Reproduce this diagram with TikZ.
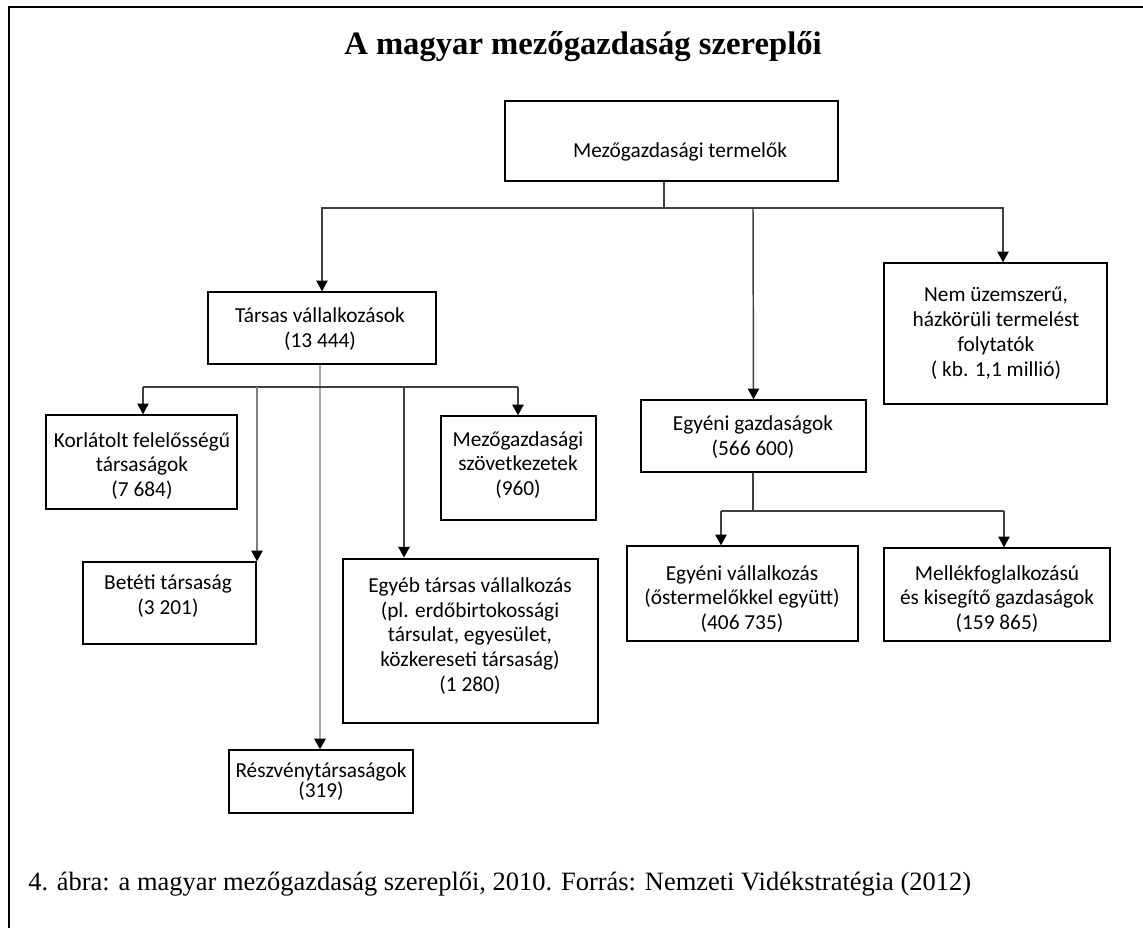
\documentclass[tikz,border=0pt]{standalone}
\usepackage{fontspec}
\setmainfont{Liberation Serif}
\newfontfamily\boxfont{Carlito}
\usetikzlibrary{arrows.meta,fit}
\definecolor{linegray}{HTML}{404040}
\definecolor{lightgray}{HTML}{A8A8A8}
\begin{document}
\begin{tikzpicture}[x=0.75pt,y=-0.75pt,
  box/.style={draw=black,line width=1.1pt,inner sep=0pt,fill=none},
  thickbox/.style={draw=black,line width=2.2pt,inner sep=0pt},
  txt/.style={align=center,inner sep=0pt,font=\boxfont\fontsize{16pt}{18.6pt}\selectfont},
  conn/.style={draw=linegray,line width=1.1pt},
  arr/.style={conn,-{Triangle[width=8.5pt,length=8pt,color=black]}},
  garr/.style={draw=lightgray,line width=1.5pt,-{Triangle[width=8.5pt,length=8pt,color=black]}}
]
\useasboundingbox (0,0) rectangle (1143,928);
\fill[white] (0,0) rectangle (1143,928);
% frame
\draw[line width=1.8pt] (9,930) -- (9,7) -- (1145,7);
% title
\node[font=\bfseries\fontsize{24.5pt}{28pt}\selectfont,inner sep=0pt,anchor=base] (title) at (583,55) {A magyar mezőgazdaság szereplői};
% boxes
\node[box,fit={(505,101) (838,181)}] (top) {};
\node[txt] (topt) at (680,152) {Mezőgazdasági termelők};
\node[box,fit={(208,292) (436,364)}] (tars) {};
\node[txt] (tarst) at (320,329) {Társas vállalkozások\\(13 444)};
\node[box,fit={(884,263) (1107,404)}] (nem) {};
\node[txt] (nemt) at (996,333) {Nem üzemszerű,\\házkörüli termelést\\folytatók\\( kb. 1,1 millió)};
\node[box,fit={(641,400) (866,472)}] (egyg) {};
\node[txt] (egygt) at (753,437) {Egyéni gazdaságok\\(566 600)};
\node[box,fit={(46,415) (237,509)}] (kft) {};
\node[txt] (kftt) at (142,466) {Korlátolt felelősségű\\társaságok\\(7 684)};
\node[box,fit={(441,416) (596,520)}] (szov) {};
\node[txt] (szovt) at (518,465) {Mezőgazdasági\\szövetkezetek\\(960)};
\node[box,fit={(83,562) (256,644)}] (bt) {};
\node[txt] (btt) at (168,596) {Betéti társaság\\(3 201)};
\node[thickbox,fit={(343,559) (598,723)}] (egyeb) {};
\node[txt] (egyebt) at (470,636) {Egyéb társas vállalkozás\\(pl. erdőbirtokossági\\társulat, egyesület,\\közkereseti társaság)\\(1 280)};
\node[box,fit={(229,750) (413,813)}] (rt) {};
\node[txt,font=\boxfont\fontsize{16pt}{15pt}\selectfont] (rtt) at (321,782) {Részvénytársaságok\\(319)};
\node[box,fit={(627,546) (858,641)}] (ev) {};
\node[txt] (evt) at (742,599) {Egyéni vállalkozás\\(őstermelőkkel együtt)\\(406 735)};
\node[box,fit={(884,548) (1110,641)}] (mel) {};
\node[txt] (melt) at (997,599) {Mellékfoglalkozású\\és kisegítő gazdaságok\\(159 865)};
% junctions
\coordinate (j1) at (664,208);
\coordinate (j1r) at (1003,208);
\coordinate (j1m) at (753,208);
\coordinate (j2) at (320,387);
\coordinate (j2k) at (143,387);
\coordinate (j2b) at (257,387);
\coordinate (j2e) at (404,387);
\coordinate (j2s) at (518,387);
\coordinate (j3) at (753,511);
\coordinate (j3l) at (721,511);
\coordinate (j3r) at (1004,511);
% connectors level 1
\draw[conn] (top.south -| j1) -- (j1);
\draw[arr] (j1) -- (j1 -| tars.north) -- (tars.north);
\draw[arr] (j1) -- (j1r) -- (j1r |- nem.north);
\draw[arr] (j1m) -- (egyg.north);
% connectors from Társas
\draw[garr] (tars.south -| j2) -- (rt.north -| j2);
\draw[conn] (j2k) -- (j2s);
\draw[arr] (j2k) -- (j2k |- kft.north);
\draw[garr,draw=gray,line width=1.2pt] (j2b) -- (j2b |- bt.north);
\draw[arr] (j2e) -- (j2e |- egyeb.north);
\draw[arr] (j2s) -- (j2s |- szov.north);
% connectors from Egyéni gazdaságok
\draw[conn] (egyg.south -| j3) -- (j3);
\draw[conn] (j3l) -- (j3r);
\draw[arr] (j3l) -- (j3l |- ev.north);
\draw[arr] (j3r) -- (j3r |- mel.north);
% caption
\node[anchor=base west,inner sep=0pt,font=\fontsize{19.85pt}{24pt}\selectfont] (cap) at (28,890) {4. ábra: a magyar mezőgazdaság szereplői, 2010. Forrás: Nemzeti Vidékstratégia (2012)};
\end{tikzpicture}
\end{document}
